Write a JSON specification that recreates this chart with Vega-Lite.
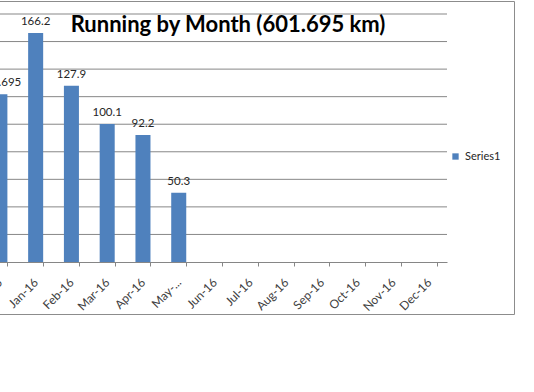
{
  "$schema": "https://vega.github.io/schema/vega-lite/v6.json",
  "autosize": {"type": "none"},
  "width": 534,
  "height": 313,
  "padding": {"left": -20, "top": 1, "right": 20, "bottom": 78},
  "background": "white",
  "title": {
    "text": "Running by Month (601.695 km)",
    "font": "Lato",
    "fontSize": 22,
    "fontWeight": "bold",
    "color": "black",
    "anchor": "middle",
    "frame": "group",
    "baseline": "alphabetic",
    "offset": -53,
    "dx": -19
  },
  "data": {
    "values": [
      {"month": "Dec-15", "km": 121.695, "series": "Series1"},
      {"month": "Jan-16", "km": 166.2, "series": "Series1"},
      {"month": "Feb-16", "km": 127.9, "series": "Series1"},
      {"month": "Mar-16", "km": 100.1, "series": "Series1"},
      {"month": "Apr-16", "km": 92.2, "series": "Series1"},
      {"month": "May-16", "km": 50.3, "series": "Series1"},
      {"month": "Jun-16", "km": null, "series": "Series1"},
      {"month": "Jul-16", "km": null, "series": "Series1"},
      {"month": "Aug-16", "km": null, "series": "Series1"},
      {"month": "Sep-16", "km": null, "series": "Series1"},
      {"month": "Oct-16", "km": null, "series": "Series1"},
      {"month": "Nov-16", "km": null, "series": "Series1"},
      {"month": "Dec-16", "km": null, "series": "Series1"}
    ]
  },
  "config": {
    "view": {"stroke": "#8c8c8c", "strokeWidth": 1},
    "font": "Lato"
  },
  "resolve": {"scale": {"x": "independent"}, "axis": {"x": "independent"}},
  "layer": [
    {
      "data": {"values": [{"g": 20}, {"g": 40}, {"g": 60}, {"g": 80}, {"g": 100}, {"g": 120}, {"g": 140}, {"g": 160}, {"g": 180}]},
      "mark": {"type": "rule", "color": "#878787", "strokeWidth": 1},
      "encoding": {
        "y": {"field": "g", "type": "quantitative", "scale": {"domain": [0, 180], "range": [261, 13], "nice": false}, "axis": null},
        "x": {"datum": 0, "type": "quantitative", "scale": {"domain": [0, 1], "range": [2, 467]}, "axis": null},
        "x2": {"datum": 1}
      }
    },
    {
      "encoding": {
        "x": {
          "field": "month",
          "type": "ordinal",
          "sort": null,
          "scale": {
            "domain": ["Dec-15", "Jan-16", "Feb-16", "Mar-16", "Apr-16", "May-16", "Jun-16", "Jul-16", "Aug-16", "Sep-16", "Oct-16", "Nov-16", "Dec-16"],
            "range": [2, 467], "paddingInner": 0.58, "paddingOuter": 0.29
          },
          "axis": {
            "title": null,
            "orient": "bottom",
            "offset": -52,
            "domainColor": "#868686",
            "tickColor": "#868686",
            "tickSize": 4,
            "tickBand": "extent",
            "labelAngle": -45,
            "labelAlign": "right",
            "labelBaseline": "middle",
            "labelPadding": 14,
            "labelDx": -1,
            "labelFont": "Lato",
            "labelFontSize": 12,
            "labelColor": "#404040",
            "labelExpr": "datum.value == 'May-16' ? 'May-...' : datum.value"
          }
        },
        "y": {
          "field": "km",
          "type": "quantitative",
          "axis": null
        }
      },
      "layer": [
        {
          "mark": {"type": "bar"},
          "encoding": {
            "color": {
              "field": "series",
              "type": "nominal",
              "scale": {"range": ["#4F81BD"]},
              "legend": {
                "title": null,
                "orient": "none",
                "legendX": 470,
                "legendY": 150,
                "padding": 0,
                "symbolType": "square",
                "symbolSize": 40,
                "symbolStrokeWidth": 0,
                "labelFont": "Lato",
                "labelFontSize": 11,
                "labelColor": "#262626",
                "labelOffset": 4
              }
            }
          }
        },
        {
          "mark": {"type": "text", "baseline": "bottom", "dy": -6, "font": "Lato", "fontSize": 11.5, "color": "#262626"},
          "encoding": {
            "text": {"field": "km", "type": "quantitative"}
          }
        }
      ]
    }
  ]
}
